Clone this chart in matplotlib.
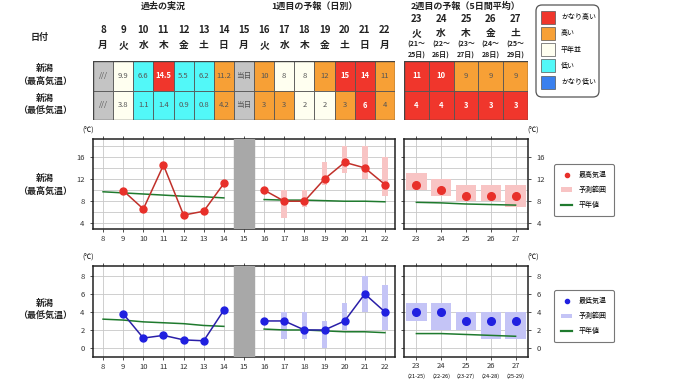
import matplotlib
matplotlib.use("Agg")
import matplotlib.pyplot as plt
from matplotlib.patches import Rectangle, FancyBboxPatch, Patch
from matplotlib.lines import Line2D

plt.rcParams['font.family'] = ['Noto Sans CJK JP', 'DejaVu Sans']

# ---- data ----
days = list(range(8, 23))
weekdays = ['月', '火', '水', '木', '金', '土', '日', '月', '火', '水', '木', '金', '土', '日', '月']
w2_days = [23, 24, 25, 26, 27]
w2_weekdays = ['火', '水', '木', '金', '土']
w2_ranges = ['21', '22', '23', '24', '25']
w2_ranges_end = ['25', '26', '27', '28', '29']

max_cells = ['///', '9.9', '6.6', '14.5', '5.5', '6.2', '11.2', '当日', '10', '8', '8', '12', '15', '14', '11']
max_class = ['na', 'normal', 'low', 'vhigh', 'low', 'low', 'high', 'na', 'high', 'normal', 'normal', 'high', 'vhigh', 'vhigh', 'high']
min_cells = ['///', '3.8', '1.1', '1.4', '0.9', '0.8', '4.2', '当日', '3', '3', '2', '2', '3', '6', '4']
min_class = ['na', 'normal', 'low', 'low', 'low', 'low', 'high', 'na', 'high', 'high', 'normal', 'normal', 'high', 'vhigh', 'high']
w2_max_cells = ['11', '10', '9', '9', '9']
w2_max_class = ['vhigh', 'vhigh', 'high', 'high', 'high']
w2_min_cells = ['4', '4', '3', '3', '3']
w2_min_class = ['vhigh', 'vhigh', 'vhigh', 'vhigh', 'vhigh']

past_days = [9, 10, 11, 12, 13, 14]
past_max = [9.9, 6.6, 14.5, 5.5, 6.2, 11.2]
past_min = [3.8, 1.1, 1.4, 0.9, 0.8, 4.2]
norm_past_days = [8, 9, 10, 11, 12, 13, 14]
norm_past_max = [9.7, 9.5, 9.3, 9.1, 8.9, 8.8, 8.6]
norm_past_min = [3.2, 3.1, 2.9, 2.8, 2.7, 2.5, 2.4]

fc_days = [16, 17, 18, 19, 20, 21, 22]
fc_max = [10, 8, 8, 12, 15, 14, 11]
fc_max_lo = [None, 5, 7, 11, 13, 12, 9]
fc_max_hi = [None, 10, 10, 15, 18, 18, 16]
norm_fc_max = [8.3, 8.2, 8.2, 8.1, 8.0, 8.0, 7.9]
fc_min = [3, 3, 2, 2, 3, 6, 4]
fc_min_lo = [None, 1, 1, 0, 2, 4, 2]
fc_min_hi = [None, 4, 4, 3, 5, 8, 7]
norm_fc_min = [2.1, 2.0, 2.0, 1.9, 1.8, 1.8, 1.7]

w2_max = [11, 10, 9, 9, 9]
w2_max_lo = [10, 9, 8, 8, 7]
w2_max_hi = [13, 12, 11, 11, 11]
norm_w2_max = [7.8, 7.7, 7.5, 7.4, 7.3]
w2_min = [4, 4, 3, 3, 3]
w2_min_lo = [3, 2, 2, 1, 1]
w2_min_hi = [5, 5, 4, 4, 4]
norm_w2_min = [1.6, 1.6, 1.5, 1.4, 1.3]

class_names = ['vhigh', 'high', 'normal', 'low', 'vlow']
class_labels = ['かなり高い', '高い', '平年並', '低い', 'かなり低い']
class_colors = {'vhigh': '#f0362c', 'high': '#f7a036', 'normal': '#fffff0',
                'low': '#52f8f8', 'vlow': '#3a80ee', 'na': '#c4c4c4'}

W, H = 680, 382
fig = plt.figure(figsize=(W / 100, H / 100), dpi=100)


def box(l, t, r, b):
    return [l / W, 1 - b / H, (r - l) / W, (b - t) / H]


def ftext(x, y, s, **kw):
    fig.text(x / W, 1 - y / H, s, **kw)


# ---- table ----
def draw_table(ax, xs, rows):
    for r, (cells, classes) in enumerate(rows):
        for x, s, c in zip(xs, cells, classes):
            ax.add_patch(Rectangle((x - 0.5, r), 1, 1, facecolor=class_colors[c],
                                   edgecolor='#555555', lw=0.6))
            white = c == 'vhigh'
            ax.text(x, r + 0.5, s, ha='center', va='center', fontsize=5.5,
                    color='white' if white else '#555555',
                    fontweight='bold' if white else 'normal')
    ax.add_patch(Rectangle((xs[0] - 0.5, 0), len(xs), 2, fill=False, edgecolor='#444444', lw=1.0))
    ax.set_xlim(xs[0] - 0.5, xs[-1] + 0.5)
    ax.set_ylim(2, 0)
    ax.axis('off')


hdr = dict(ha='center', va='center', fontsize=7, fontweight='semibold', color='#222222', clip_on=False)

tab1 = fig.add_axes(box(93, 61, 395, 120))
draw_table(tab1, days, [(max_cells, max_class), (min_cells, min_class)])
for d, w in zip(days, weekdays):
    tab1.text(d, -1.05, str(d), **hdr)
    tab1.text(d, -0.55, w, **hdr)
tab1.text(11, -1.85, '過去の実況', **dict(hdr, fontsize=6.5))
tab1.text(18.5, -1.85, '1週目の予報（日別）', **dict(hdr, fontsize=6.5))

tab2 = fig.add_axes(box(404, 61, 528, 120))
draw_table(tab2, w2_days, [(w2_max_cells, w2_max_class), (w2_min_cells, w2_min_class)])
for d, w, a, b in zip(w2_days, w2_weekdays, w2_ranges, w2_ranges_end):
    tab2.text(d, -1.42, str(d), **hdr)
    tab2.text(d, -0.95, w, **hdr)
    tab2.text(d, -0.57, '(' + a + '～', **dict(hdr, fontsize=5))
    tab2.text(d, -0.2, b + '日)', **dict(hdr, fontsize=5))
tab2.text(25, -1.85, '2週目の予報（5日間平均）', **dict(hdr, fontsize=6.5))

side = dict(ha='center', va='center', fontsize=6.5, fontweight='semibold', color='#222222', linespacing=1.5)
ftext(40, 37, '日付', **side)
ftext(45, 75, '新潟\n（最高気温）', **side)
ftext(45, 105, '新潟\n（最低気温）', **side)

# category legend
leg = fig.add_axes(box(535, 4, 600, 98))
leg.set_xlim(0, 65)
leg.set_ylim(94, 0)
leg.axis('off')
leg.add_patch(FancyBboxPatch((1, 1), 63, 92, boxstyle='round,pad=0,rounding_size=6',
                             facecolor='white', edgecolor='#555555', lw=0.9))
for i, (n, lab) in enumerate(zip(class_names, class_labels)):
    yc = 13 + i * 16.3
    leg.add_patch(Rectangle((6, yc - 6.5), 14, 13, facecolor=class_colors[n], edgecolor='#555555', lw=0.5))
    leg.text(26, yc, lab, va='center', ha='left', fontsize=5)


# ---- charts ----
def style(ax, xt, ylim, yt, grid):
    ax.set_xlim(xt[0] - 0.5, xt[-1] + 0.5)
    ax.set_ylim(*ylim)
    ax.set_xticks(xt)
    ax.set_yticks(yt)
    ax.set_yticks(grid, minor=True)
    ax.grid(True, which='both', color='#c8c8c8', lw=0.6)
    ax.set_axisbelow(True)
    ax.tick_params(which='both', labelsize=5.5, length=2.5, width=0.6, top=True, right=True, colors='#333333')
    ax.tick_params(axis='x', pad=2)
    ax.tick_params(which='minor', length=0)
    for s in ax.spines.values():
        s.set_linewidth(1.1)
        s.set_color('#222222')


def draw_main(ax, pvals, npast, fvals, flo, fhi, nfc, line_c, mark_c, band_c, ylim, yt, grid):
    ax.plot(norm_past_days, npast, color='#1f7a2e', lw=1.1, zorder=2)
    ax.plot(fc_days, nfc, color='#1f7a2e', lw=1.1, zorder=2)
    for d, lo, hi in zip(fc_days, flo, fhi):
        if lo is not None:
            ax.bar(d, hi - lo, bottom=lo, width=0.28, color=band_c, zorder=1.5)
    ax.plot(past_days, pvals, color=line_c, lw=1.1, marker='o', ms=5, mfc=mark_c, mec=mark_c, zorder=3)
    ax.plot(fc_days, fvals, color=line_c, lw=1.1, marker='o', ms=5, mfc=mark_c, mec=mark_c, zorder=3)
    ax.axvspan(14.5, 15.5, color='#a8a8a8', zorder=4)
    style(ax, days, ylim, yt, grid)
    ax.tick_params(right=False)


def draw_w2(ax, vals, lo, hi, norm, mark_c, band_c, ylim, yt, grid):
    ax.bar(w2_days, [h - l for h, l in zip(hi, lo)], bottom=lo, width=0.83, color=band_c, zorder=1.5)
    ax.plot(w2_days, norm, color='#1f7a2e', lw=1.1, zorder=2)
    ax.plot(w2_days, vals, ls='none', marker='o', ms=5.5, mfc=mark_c, mec=mark_c, zorder=3)
    style(ax, w2_days, ylim, yt, grid)
    ax.yaxis.tick_right()
    ax.tick_params(which='both', left=True, right=True, labelleft=False, labelright=True)


red_line, red_mark, pink = '#c0302a', '#e8302a', '#f8c4c4'
blue_line, blue_mark, lav = '#2a1fa8', '#2020e0', '#c4c4f6'

up = fig.add_axes(box(93, 139, 395, 229))
draw_main(up, past_max, norm_past_max, fc_max, fc_max_lo, fc_max_hi, norm_fc_max,
          red_line, red_mark, pink, (3, 19.2), [4, 8, 12, 16], [6, 10, 14, 18])
up2 = fig.add_axes(box(404, 139, 528, 229))
draw_w2(up2, w2_max, w2_max_lo, w2_max_hi, norm_w2_max, red_mark, pink,
        (3, 19.2), [4, 8, 12, 16], [6, 10, 14, 18])

lo_ax = fig.add_axes(box(93, 266, 395, 357))
draw_main(lo_ax, past_min, norm_past_min, fc_min, fc_min_lo, fc_min_hi, norm_fc_min,
          blue_line, blue_mark, lav, (-1, 9.1), [0, 2, 4, 6, 8], [])
lo2 = fig.add_axes(box(404, 266, 528, 357))
draw_w2(lo2, w2_min, w2_min_lo, w2_min_hi, norm_w2_min, blue_mark, lav,
        (-1, 9.1), [0, 2, 4, 6, 8], [])
lo2.tick_params(axis='x', pad=1)
for d, a, b in zip(w2_days, w2_ranges, w2_ranges_end):
    lo2.text(d, -0.21, f'({a}-{b})', transform=lo2.get_xaxis_transform(), ha='center', va='center', fontsize=4)

for yy in [131, 258]:
    ftext(88, yy, '(℃)', ha='center', va='center', fontsize=5)
    ftext(533, yy, '(℃)', ha='center', va='center', fontsize=5)

ftext(45, 185, '新潟\n（最高気温）', **side)
ftext(45, 310, '新潟\n（最低気温）', **side)

for ax, mc, bc, lab, top in [(up2, red_mark, pink, '最高気温', 161), (lo2, blue_mark, lav, '最低気温', 287)]:
    handles = [Line2D([], [], ls='none', marker='o', ms=3, mfc=mc, mec=mc),
               Patch(facecolor=bc, edgecolor='none'),
               Line2D([], [], color='#1f7a2e', lw=1.6)]
    lg = fig.legend(handles, [lab, '予測範囲', '平年値'], loc='upper left',
                    bbox_to_anchor=(551 / W, 1 - top / H), fontsize=5, frameon=True,
                    fancybox=True, edgecolor='#555555', handlelength=1.5, labelspacing=1.0,
                    borderpad=1.0, handletextpad=1.0)
    lg.get_frame().set_linewidth(0.8)

fig.savefig('out.png', dpi=100)
